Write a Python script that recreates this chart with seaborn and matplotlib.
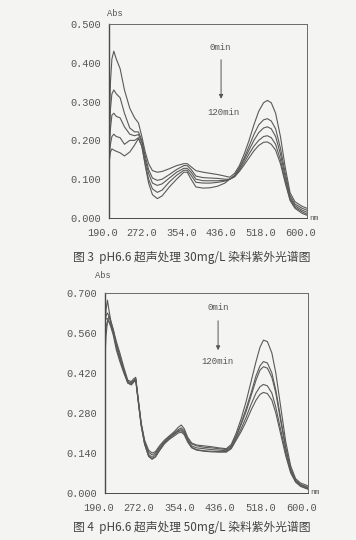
import numpy as np
import pandas as pd
import matplotlib
matplotlib.use("Agg")
import matplotlib.pyplot as plt
import matplotlib.transforms as mtransforms
import seaborn as sns

# ---------------- data: figure 3 (30 mg/L) ----------------
wl_a = [190, 193, 196, 200, 205, 213, 222, 233, 243, 251, 258, 265, 272, 280, 290,
        300, 315, 330, 345, 352, 360, 370, 385, 400, 415, 430, 440, 450, 460, 470,
        480, 490, 500, 510, 518, 526, 535, 545, 555, 565, 575, 590, 600]
a_0 = [0.18, 0.35, 0.41, 0.43, 0.41, 0.385, 0.33, 0.283, 0.258, 0.245, 0.21, 0.17, 0.14,
       0.122, 0.118, 0.12, 0.127, 0.135, 0.14, 0.14, 0.132, 0.122, 0.118, 0.115, 0.112,
       0.108, 0.105, 0.115, 0.135, 0.165, 0.2, 0.24, 0.275, 0.297, 0.303, 0.297, 0.27,
       0.21, 0.13, 0.065, 0.042, 0.03, 0.025]
a_1 = [0.17, 0.28, 0.32, 0.33, 0.32, 0.31, 0.27, 0.232, 0.222, 0.222, 0.2, 0.16, 0.125,
       0.103, 0.097, 0.1, 0.112, 0.125, 0.135, 0.135, 0.125, 0.108, 0.104, 0.103, 0.102,
       0.1, 0.1, 0.11, 0.13, 0.155, 0.185, 0.215, 0.24, 0.253, 0.256, 0.25, 0.23, 0.18,
       0.115, 0.058, 0.036, 0.025, 0.02]
a_2 = [0.16, 0.23, 0.265, 0.27, 0.262, 0.258, 0.235, 0.216, 0.212, 0.215, 0.195, 0.15,
       0.115, 0.09, 0.084, 0.088, 0.103, 0.118, 0.128, 0.128, 0.118, 0.1, 0.096, 0.096,
       0.096, 0.097, 0.1, 0.108, 0.127, 0.15, 0.175, 0.2, 0.22, 0.232, 0.235, 0.23, 0.21,
       0.165, 0.105, 0.052, 0.032, 0.02, 0.015]
a_3 = [0.15, 0.19, 0.21, 0.216, 0.21, 0.207, 0.19, 0.2, 0.2, 0.207, 0.185, 0.14, 0.1,
       0.075, 0.066, 0.072, 0.093, 0.11, 0.123, 0.123, 0.11, 0.092, 0.09, 0.09, 0.092,
       0.095, 0.1, 0.107, 0.123, 0.143, 0.165, 0.185, 0.2, 0.21, 0.212, 0.207, 0.19,
       0.15, 0.095, 0.048, 0.028, 0.016, 0.01]
a_4 = [0.14, 0.17, 0.178, 0.175, 0.172, 0.168, 0.16, 0.17, 0.188, 0.205, 0.185, 0.135,
       0.09, 0.06, 0.05, 0.057, 0.08, 0.1, 0.118, 0.118, 0.1, 0.08, 0.077, 0.078, 0.082,
       0.09, 0.1, 0.106, 0.12, 0.137, 0.155, 0.173, 0.187, 0.195, 0.196, 0.19, 0.175,
       0.14, 0.09, 0.045, 0.025, 0.012, 0.007]

# ---------------- data: figure 4 (50 mg/L) ----------------
wl_b = [190, 192, 195, 198, 202, 207, 213, 220, 228, 236, 243, 248, 252, 257, 263, 270,
        278, 285, 292, 300, 310, 320, 330, 338, 344, 350, 357, 365, 375, 390, 405, 420,
        435, 445, 455, 465, 475, 485, 495, 503, 510, 518, 527, 535, 545, 555, 565, 575,
        585, 600]
b_0 = [0.58, 0.64, 0.675, 0.64, 0.6, 0.57, 0.53, 0.49, 0.44, 0.395, 0.39, 0.4, 0.405,
       0.33, 0.245, 0.185, 0.15, 0.14, 0.145, 0.165, 0.185, 0.2, 0.215, 0.23, 0.238,
       0.225, 0.195, 0.175, 0.168, 0.165, 0.162, 0.158, 0.155, 0.17, 0.21, 0.26, 0.32,
       0.39, 0.46, 0.51, 0.535, 0.53, 0.49, 0.42, 0.3, 0.18, 0.095, 0.05, 0.035, 0.025]
b_1 = [0.6, 0.62, 0.63, 0.62, 0.59, 0.56, 0.52, 0.48, 0.43, 0.39, 0.385, 0.395, 0.4,
       0.33, 0.245, 0.18, 0.143, 0.133, 0.14, 0.16, 0.18, 0.197, 0.21, 0.222, 0.228,
       0.218, 0.19, 0.172, 0.165, 0.16, 0.158, 0.155, 0.152, 0.165, 0.2, 0.245, 0.295,
       0.35, 0.41, 0.445, 0.46, 0.455, 0.42, 0.36, 0.26, 0.16, 0.085, 0.045, 0.03, 0.02]
b_2 = [0.47, 0.55, 0.6, 0.62, 0.6, 0.57, 0.515, 0.47, 0.425, 0.385, 0.38, 0.39, 0.398,
       0.325, 0.24, 0.175, 0.135, 0.125, 0.135, 0.155, 0.178, 0.195, 0.208, 0.218, 0.222,
       0.212, 0.185, 0.165, 0.158, 0.155, 0.152, 0.15, 0.148, 0.162, 0.197, 0.24, 0.285,
       0.34, 0.395, 0.43, 0.442, 0.437, 0.405, 0.35, 0.25, 0.155, 0.08, 0.042, 0.028, 0.018]
b_3 = [0.6, 0.61, 0.61, 0.6, 0.58, 0.55, 0.5, 0.46, 0.42, 0.385, 0.378, 0.388, 0.395,
       0.32, 0.235, 0.17, 0.13, 0.12, 0.128, 0.15, 0.175, 0.19, 0.205, 0.215, 0.218,
       0.208, 0.182, 0.16, 0.152, 0.148, 0.146, 0.145, 0.145, 0.158, 0.19, 0.225, 0.265,
       0.31, 0.35, 0.372, 0.38, 0.375, 0.35, 0.3, 0.22, 0.14, 0.075, 0.04, 0.025, 0.015]
b_4 = [0.52, 0.58, 0.6, 0.6, 0.585, 0.56, 0.51, 0.47, 0.43, 0.39, 0.383, 0.392, 0.4,
       0.325, 0.24, 0.172, 0.128, 0.118, 0.126, 0.148, 0.172, 0.188, 0.2, 0.21, 0.213,
       0.204, 0.178, 0.158, 0.15, 0.146, 0.144, 0.143, 0.143, 0.155, 0.185, 0.215, 0.25,
       0.29, 0.325, 0.345, 0.352, 0.348, 0.325, 0.28, 0.205, 0.13, 0.07, 0.038, 0.023, 0.013]

series_names = ["s0", "s1", "s2", "s3", "s4"]
x_ticks = [190.0, 272.0, 354.0, 436.0, 518.0, 600.0]
x_labels = ["190.0", "272.0", "354.0", "436.0", "518.0", "600.0"]
y_ticks_a = [0.0, 0.1, 0.2, 0.3, 0.4, 0.5]
y_labels_a = ["0.000", "0.100", "0.200", "0.300", "0.400", "0.500"]
y_ticks_b = [0.0, 0.14, 0.28, 0.42, 0.56, 0.70]
y_labels_b = ["0.000", "0.140", "0.280", "0.420", "0.560", "0.700"]
cap_a = "图 3  pH6.6 超声处理 30mg/L 染料紫外光谱图"
cap_b = "图 4  pH6.6 超声处理 50mg/L 染料紫外光谱图"


def to_long(wl, curves):
    frames = []
    for name, vals in zip(series_names, curves):
        frames.append(pd.DataFrame({"wl": wl, "A": vals, "t": name}))
    return pd.concat(frames, ignore_index=True)


df_a = to_long(wl_a, [a_0, a_1, a_2, a_3, a_4])
df_b = to_long(wl_b, [b_0, b_1, b_2, b_3, b_4])

sns.set_theme(style="white")
plt.rcParams["font.family"] = ["Liberation Mono", "DejaVu Sans"]

BG = "#f4f4f2"
INK = "#555555"
W, H = 356, 540
fig = plt.figure(figsize=(W / 100, H / 100), dpi=100, facecolor=BG)


def px_axes(l, r, t, b):
    return fig.add_axes([l / W, 1 - b / H, (r - l) / W, (b - t) / H])


ax1 = px_axes(109, 307, 24, 218)
ax2 = px_axes(105, 308, 293, 493)

pal = {n: "#5a5a5a" for n in series_names}

for ax, df, yt, yl, ylim in [
    (ax1, df_a, y_ticks_a, y_labels_a, (0, 0.5)),
    (ax2, df_b, y_ticks_b, y_labels_b, (0, 0.7)),
]:
    ax.set_facecolor(BG)
    sns.lineplot(data=df, x="wl", y="A", hue="t", palette=pal, legend=False,
                 linewidth=0.8, ax=ax)
    ax.set_xlim(190, 600)
    ax.set_ylim(*ylim)
    ax.set_xticks(x_ticks)
    ax.set_xticklabels(x_labels)
    ax.set_yticks(yt)
    ax.set_yticklabels(yl)
    ax.set_xlabel("")
    ax.set_ylabel("")
    for s in ax.spines.values():
        s.set_visible(True)
        s.set_color("#6a6a6a")
        s.set_linewidth(0.7)
    ax.spines["left"].set_color("#4a4a4a")
    ax.spines["left"].set_linewidth(1.0)
    ax.spines["bottom"].set_color("#4a4a4a")
    ax.tick_params(axis="both", direction="out", length=3.5, width=0.8,
                   color="#555555", labelsize=7.4, labelcolor=INK, pad=2)
    ax.tick_params(axis="x", pad=4)
    off = mtransforms.ScaledTranslation(-6.5 / 100, 0, fig.dpi_scale_trans)
    for lab in ax.get_xticklabels():
        lab.set_transform(lab.get_transform() + off)
    ax.text(1.01, 0.0, "nm", transform=ax.transAxes, fontsize=5.5, color=INK,
            ha="left", va="center")

# "Abs" labels
fig.text(107 / W, 1 - 13 / H, "Abs", fontsize=6.3, color=INK, ha="left", va="center")
fig.text(95 / W, 1 - 276 / H, "Abs", fontsize=6.3, color=INK, ha="left", va="center")

# time annotations with arrows
ax1.text(0.56, 0.881, "0min", transform=ax1.transAxes, fontsize=6.5, color=INK,
         ha="center", va="center")
ax1.annotate("", xy=(0.566, 0.60), xytext=(0.566, 0.83), xycoords="axes fraction",
             arrowprops=dict(arrowstyle="-|>", color="#555555", lw=0.7,
                             mutation_scale=6))
ax1.text(0.576, 0.546, "120min", transform=ax1.transAxes, fontsize=6.5, color=INK,
         ha="center", va="center")

ax2.text(0.557, 0.925, "0min", transform=ax2.transAxes, fontsize=6.5, color=INK,
         ha="center", va="center")
ax2.annotate("", xy=(0.557, 0.70), xytext=(0.557, 0.875), xycoords="axes fraction",
             arrowprops=dict(arrowstyle="-|>", color="#555555", lw=0.7,
                             mutation_scale=6))
ax2.text(0.552, 0.655, "120min", transform=ax2.transAxes, fontsize=6.5, color=INK,
         ha="center", va="center")

# captions
cjk = ["Noto Sans CJK SC", "DejaVu Sans"]
fig.text(73 / W, 1 - 257 / H, cap_a, family=cjk, fontsize=8.5, color="#444444",
         ha="left", va="center")
fig.text(73 / W, 1 - 527 / H, cap_b, family=cjk, fontsize=8.5, color="#444444",
         ha="left", va="center")

fig.savefig("out.png", dpi=100, facecolor=BG)
